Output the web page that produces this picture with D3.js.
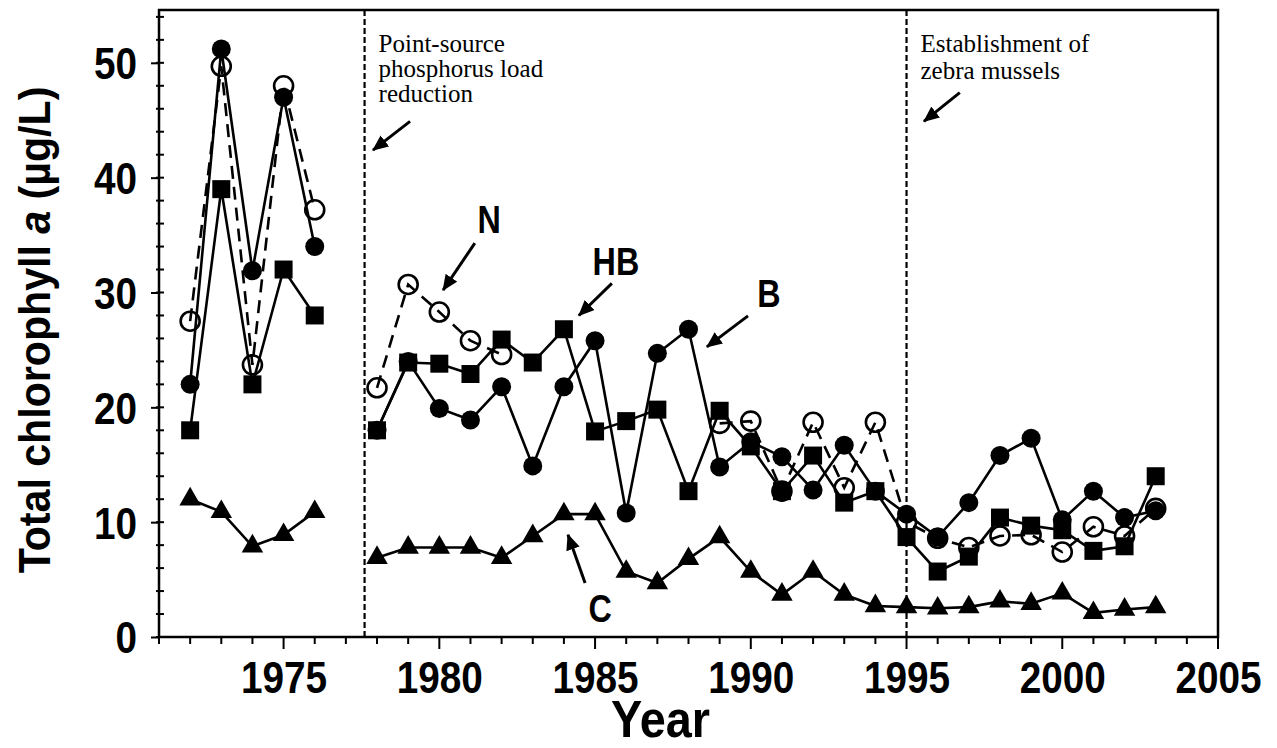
<!DOCTYPE html>
<html><head><meta charset="utf-8">
<script src="https://cdn.jsdelivr.net/npm/d3@7"></script>
<style>
body{margin:0;background:#fff}
svg{display:block}
</style>
</head><body>
<svg id="chart" width="1277" height="748"></svg>
<script>
// ---------------- data ----------------
const years = [1972,1973,1974,1975,1976,
  1978,1979,1980,1981,1982,1983,1984,1985,1986,1987,1988,1989,1990,
  1991,1992,1993,1994,1995,1996,1997,1998,1999,2000,2001,2002,2003];
// B (filled circles)
const seriesB = [22,51.2,31.9,47,34,
  18,24,19.9,18.9,21.8,14.9,21.8,25.8,10.8,24.7,26.8,14.8,17,
  15.7,12.8,16.7,12.7,10.7,8.7,11.7,15.8,17.3,10.2,12.7,10.4,11];
// HB (filled squares)
const seriesHB = [18,39,22,32,28,
  18,23.9,23.8,22.9,25.9,23.9,26.8,17.9,18.8,19.8,12.7,19.7,16.6,
  12.7,15.8,11.7,12.7,8.7,5.7,7,10.4,9.7,9.3,7.5,7.9,14];
// N (open circles, dashed)
const seriesN = [27.5,49.7,23.7,48,37.2,
  21.7,30.7,28.3,25.8,24.6,null,null,null,null,null,null,18.6,18.8,
  12.7,18.7,13,18.7,10,8.6,7.8,8.8,8.9,7.4,9.6,8.8,11.2];
// C (filled triangles)
const seriesC = [12,10.9,7.9,8.9,10.9,
  6.9,7.8,7.8,7.8,6.9,8.8,10.7,10.7,5.7,4.7,6.8,8.7,5.7,
  3.7,5.7,3.7,2.7,2.6,2.5,2.6,3.1,2.9,3.8,2.1,2.4,2.6];

const xTickLabels = [1975,1980,1985,1990,1995,2000,2005];
const yTickLabels = [0,10,20,30,40,50];
const eventYears = [1977.6, 1995];
const eventTexts = [["Point-source","phosphorus load","reduction"],["Establishment of","zebra mussels"]];
const stationLabels = ["N","HB","B","C"];

// ---------------- layout ----------------
const svg = d3.select("#chart");
const L = 159, R = 1218, T = 10, B = 637;
const x = d3.scaleLinear().domain([1971, 2005]).range([L, R]);
const y = d3.scaleLinear().domain([0, 54.6]).range([B, T]);

const sans = "'Liberation Sans', Arial, Helvetica, sans-serif";
const serif = "'Liberation Serif', 'Times New Roman', serif";

// frame
svg.append("rect").attr("x", L).attr("y", T).attr("width", R - L).attr("height", B - T)
  .attr("fill", "none").attr("stroke", "#000").attr("stroke-width", 2.5);

// x axis
const xMinor = d3.range(1971, 2006);
const gx = svg.append("g").attr("transform", `translate(0,${B})`);
gx.selectAll("line.minor").data(xMinor).join("line")
  .attr("x1", d => x(d)).attr("x2", d => x(d))
  .attr("y1", 0).attr("y2", d => d % 5 === 0 ? 12 : 7)
  .attr("stroke", "#000").attr("stroke-width", 2);
const xAxis = d3.axisBottom(x).tickValues(xTickLabels).tickSize(0).tickFormat(d3.format("d"));
gx.call(xAxis);
gx.select(".domain").remove();
gx.selectAll(".tick text")
  .attr("y", 56).attr("dy", 0)
  .attr("transform", "scale(0.88,1)")
  .attr("x", 0)
  .style("font-family", sans).style("font-weight", "bold").style("font-size", "44px").attr("fill", "#000");

// y axis
const gy = svg.append("g").attr("transform", `translate(${L},0)`);
const yMinor = d3.range(0, 55, 2);
gy.selectAll("line.minor").data(yMinor).join("line")
  .attr("y1", d => y(d)).attr("y2", d => y(d))
  .attr("x1", -3).attr("x2", 5)
  .attr("stroke", "#000").attr("stroke-width", 2);
const yAxis = d3.axisLeft(y).tickValues(yTickLabels).tickSize(8).tickPadding(12);
gy.call(yAxis);
gy.select(".domain").remove();
gy.selectAll(".tick line").attr("stroke-width", 2).attr("x2", -8);
gy.selectAll(".tick text")
  .style("font-family", sans).style("font-weight", "bold").style("font-size", "44px")
  .attr("transform", "scale(0.88,1)").attr("x", -22/0.88).attr("dy", "0.36em").attr("fill", "#000");

// axis titles
const yearX = x(1987.1);
svg.append("text").attr("x", 0).attr("y", 0)
  .attr("text-anchor", "middle")
  .style("font-family", sans).style("font-weight", "bold").style("font-size", "52px")
  .attr("transform", `translate(${yearX},737) scale(0.9,1)`)
  .text("Year");

const yt = svg.append("text")
  .attr("transform", `translate(50,330) rotate(-90) scale(0.935,1)`)
  .attr("text-anchor", "middle")
  .style("font-family", sans).style("font-weight", "bold").style("font-size", "44px");
yt.append("tspan").text("Total chlorophyll ");
yt.append("tspan").style("font-style", "italic").text("a");
yt.append("tspan").text(" (\u00b5g/L)");

// event lines
svg.selectAll("line.event").data(eventYears).join("line")
  .attr("class", "event")
  .attr("x1", d => x(d)).attr("x2", d => x(d))
  .attr("y1", T).attr("y2", B)
  .attr("stroke", "#000").attr("stroke-width", 2.2).attr("stroke-dasharray", "6,3");

// event texts
eventTexts.forEach((lines, i) => {
  const t = svg.append("text")
    .style("font-family", serif).style("font-size", "25px").attr("fill", "#000");
  lines.forEach((ln, j) => {
    t.append("tspan").attr("x", x(eventYears[i]) + 14).attr("y", 52 + j * (i === 0 ? 25 : 27)).text(ln);
  });
});

// arrow marker
const defs = svg.append("defs");
defs.append("marker").attr("id", "ah")
  .attr("viewBox", "0 0 16 14").attr("refX", 15).attr("refY", 7)
  .attr("markerWidth", 16).attr("markerHeight", 14)
  .attr("markerUnits", "userSpaceOnUse").attr("orient", "auto")
  .append("path").attr("d", "M0,0 L16,7 L0,14 Z").attr("fill", "#000");

// arrows [fromYear, fromVal, toYear, toVal]
const arrows = [
  [1979.06, 44.9, 1977.87, 42.4],
  [1996.71, 47.4, 1995.56, 44.9],
  [1981.14, 34.3, 1980.12, 30.2],
  [1985.54, 30.8, 1984.48, 28.0],
  [1989.91, 27.96, 1988.59, 25.26],
  [1984.68, 4.7, 1984.13, 8.9]
];
svg.selectAll("line.arrow").data(arrows).join("line")
  .attr("class", "arrow")
  .attr("x1", d => x(d[0])).attr("y1", d => y(d[1]))
  .attr("x2", d => x(d[2])).attr("y2", d => y(d[3]))
  .attr("stroke", "#000").attr("stroke-width", 3).attr("marker-end", "url(#ah)");

// station labels [year, value]
const labelPos = [[1981.6, 35.2], [1985.67, 31.5], [1990.58, 28.7], [1985.16, 1.3]];
svg.selectAll("text.station").data(stationLabels).join("text")
  .attr("class", "station")
  .attr("text-anchor", "middle")
  .attr("transform", (d, i) => `translate(${x(labelPos[i][0])},${y(labelPos[i][1])}) scale(0.85,1)`)
  .style("font-family", sans).style("font-weight", "bold").style("font-size", "38px")
  .text(d => d);

// ---------------- series ----------------
function segs(vals) {
  const out = []; let cur = [];
  years.forEach((yr, i) => {
    const v = vals[i];
    if (v == null) { if (cur.length) out.push(cur); cur = []; return; }
    if (cur.length && yr - cur[cur.length - 1].yr > 1) { out.push(cur); cur = []; }
    cur.push({yr, v});
  });
  if (cur.length) out.push(cur);
  return out;
}
const pts = vals => years.map((yr, i) => ({yr, v: vals[i]})).filter(d => d.v != null);
const line = d3.line().x(d => x(d.yr)).y(d => y(d.v));

const plot = svg.append("g");
[[seriesC, null], [seriesB, null], [seriesHB, null], [seriesN, "13,8"]].forEach(([vals, dash]) => {
  plot.append("g").selectAll("path").data(segs(vals)).join("path")
    .attr("d", line).attr("fill", "none").attr("stroke", "#000")
    .attr("stroke-width", 2.6).attr("stroke-dasharray", dash);
});
plot.append("g").selectAll("circle").data(pts(seriesB)).join("circle")
  .attr("cx", d => x(d.yr)).attr("cy", d => y(d.v)).attr("r", 9.5).attr("fill", "#000");
plot.append("g").selectAll("path").data(pts(seriesHB)).join("path")
  .attr("transform", d => `translate(${x(d.yr)},${y(d.v)})`)
  .attr("d", d3.symbol(d3.symbolSquare, 18 * 18)).attr("fill", "#000");
plot.append("g").selectAll("circle").data(pts(seriesN)).join("circle")
  .attr("cx", d => x(d.yr)).attr("cy", d => y(d.v)).attr("r", 9.5)
  .attr("fill", "none").attr("stroke", "#000").attr("stroke-width", 2.6);
plot.append("g").selectAll("path").data(pts(seriesC)).join("path")
  .attr("transform", d => `translate(${x(d.yr)},${y(d.v)})`)
  .attr("d", d3.symbol(d3.symbolTriangle, 200)).attr("fill", "#000");
</script>
</body></html>
